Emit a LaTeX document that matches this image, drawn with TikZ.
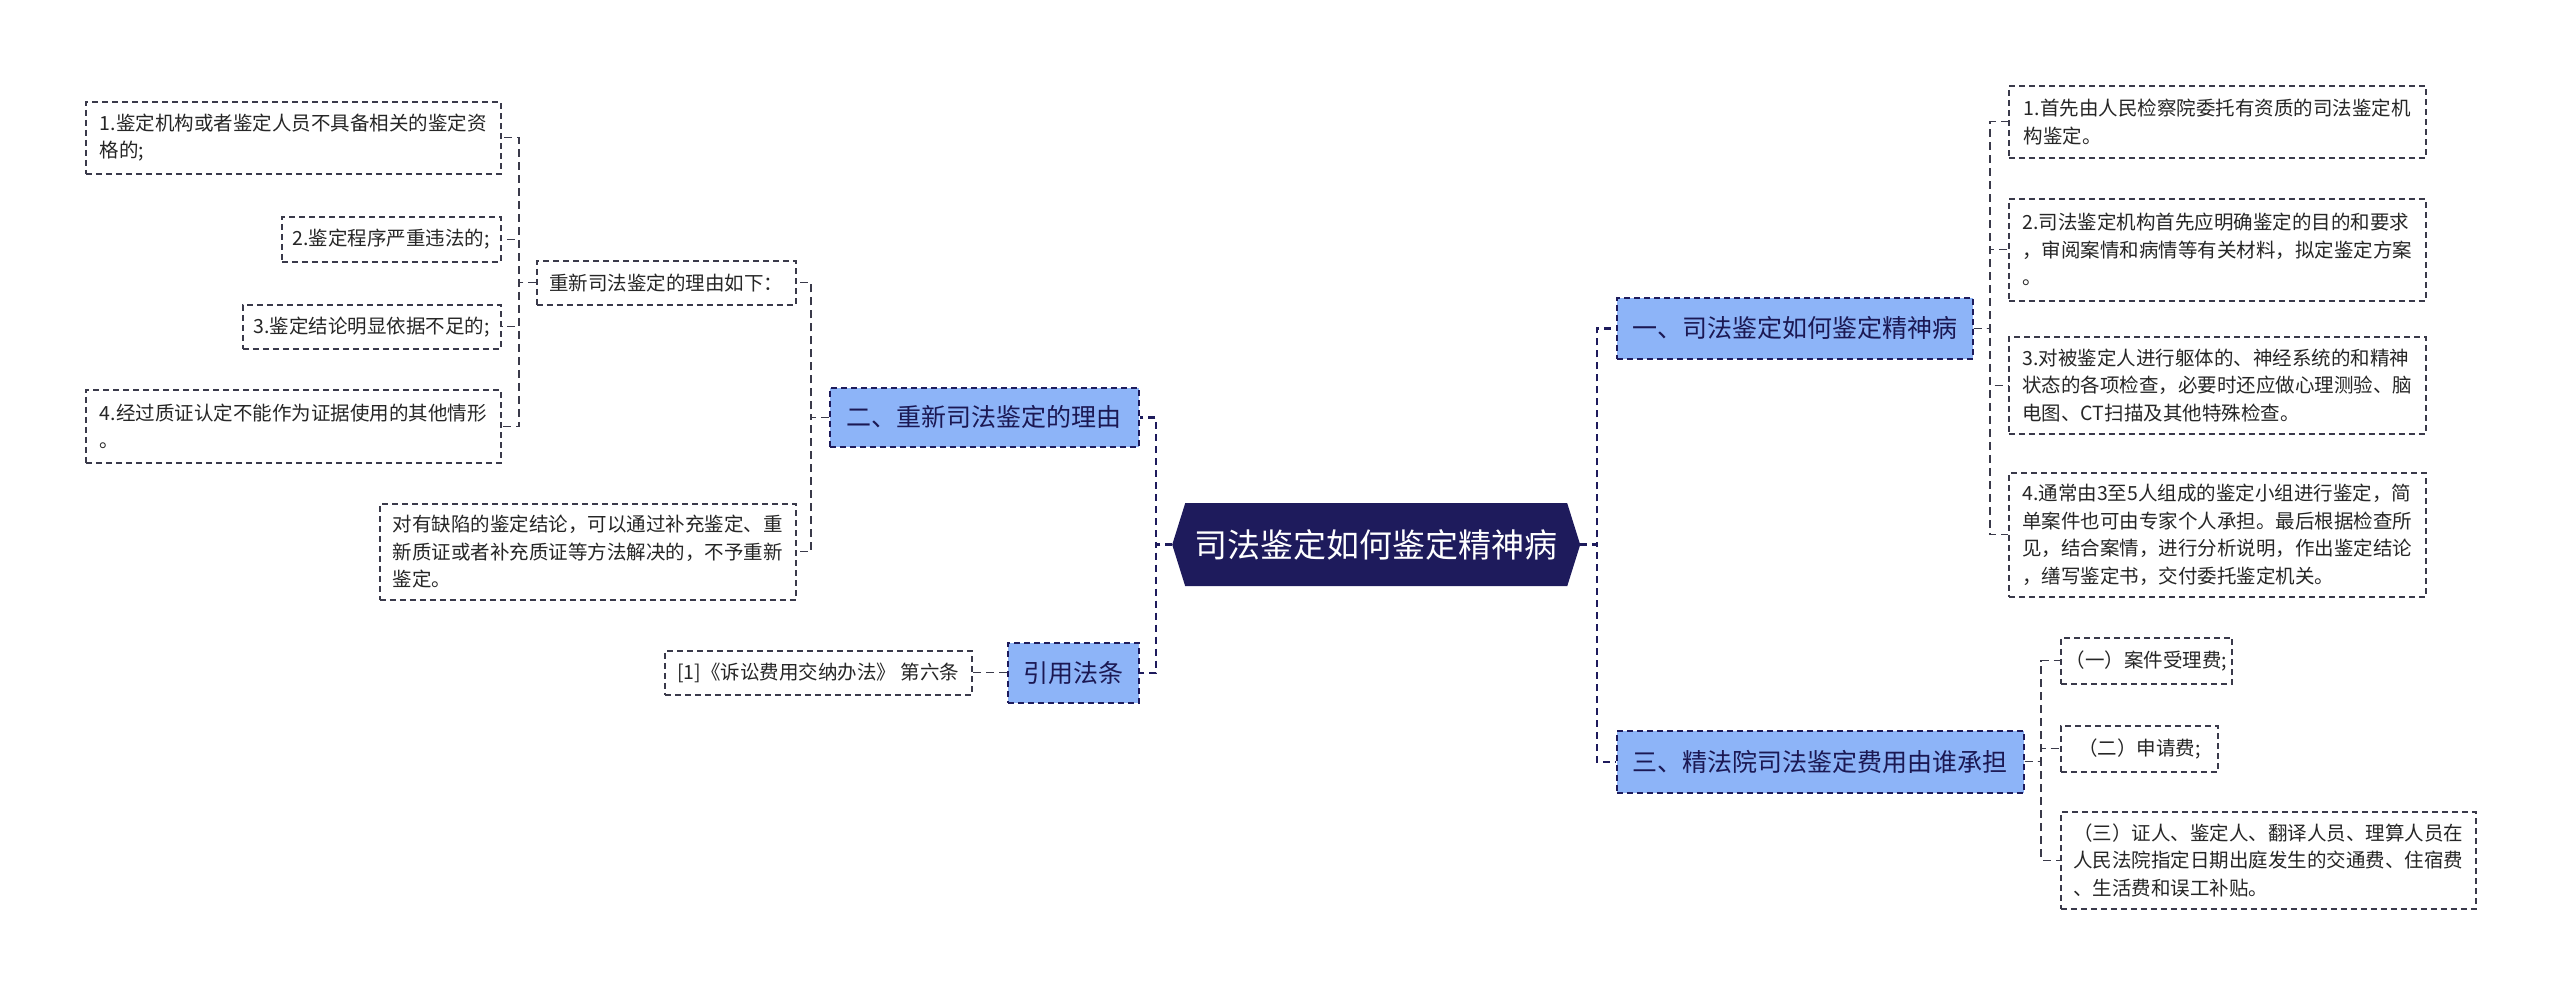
\documentclass[tikz,border=0pt]{standalone}
\usepackage{fontspec}
\setmainfont{Noto Sans CJK SC}
\definecolor{navy}{HTML}{1E1B5C}
\definecolor{lblue}{HTML}{8DB4F8}
\definecolor{lgray}{HTML}{3A3A4A}
\tikzset{
  leaf/.style={draw=lgray, line width=1.6pt, dash pattern=on 6pt off 4pt, fill=white,
    align=left, anchor=north west, inner xsep=5pt, inner ysep=4pt,
    font=\fontsize{19.5}{27.5}\selectfont, text=black!85},
  lvone/.style={draw=navy, line width=1.6pt, dash pattern=on 6pt off 4pt, fill=lblue,
    anchor=north west, inner xsep=8pt, inner ysep=4pt,
    font=\fontsize{25}{30}\selectfont, text=navy!90!black},
  mainlink/.style={draw=navy, line width=2.6pt, dash pattern=on 7pt off 5pt},
  sublink/.style={draw=lgray, line width=1.1pt, dash pattern=on 8pt off 5pt},
}
\begin{document}
\begin{tikzpicture}[x=1pt,y=-1pt]
\useasboundingbox (0,0) rectangle (2560,995);

% center hexagon
\node[minimum width=408pt, minimum height=83pt, inner sep=0pt, anchor=north west,
  font=\fontsize{33}{36}\selectfont, text=white,
  path picture={\fill[navy] (path picture bounding box.west) -- ([xshift=13pt]path picture bounding box.north west) -- ([xshift=-13pt]path picture bounding box.north east) -- (path picture bounding box.east) -- ([xshift=-13pt]path picture bounding box.south east) -- ([xshift=13pt]path picture bounding box.south west) -- cycle;}]
  (c) at (1172,503) {司法鉴定如何鉴定精神病};

% level one
\node[lvone, minimum width=309pt, minimum height=59pt] (b2) at (829,387) {二、重新司法鉴定的理由};
\node[lvone, minimum width=131pt, minimum height=60pt] (b4) at (1007,642) {引用法条};
\node[lvone, minimum width=356pt, minimum height=61pt] (b1) at (1616,297) {一、司法鉴定如何鉴定精神病};
\node[lvone, minimum width=407pt, minimum height=62pt] (b3) at (1616,730) {三、精法院司法鉴定费用由谁承担};

% left level two
\node[leaf, minimum width=259pt, minimum height=44pt] (l1) at (536,260) {重新司法鉴定的理由如下：};
\node[leaf, minimum width=416pt, minimum height=96pt] (l2) at (379,503) {对有缺陷的鉴定结论，可以通过补充鉴定、重\\新质证或者补充质证等方法解决的，不予重新\\鉴定。};
\node[leaf, minimum width=307pt, minimum height=44pt] (q1) at (664,650) {[1]《诉讼费用交纳办法》 第六条};

% left level three
\node[leaf, minimum width=415pt, minimum height=72pt] (m1) at (85,101) {1.鉴定机构或者鉴定人员不具备相关的鉴定资\\格的;};
\node[leaf, minimum width=219pt, minimum height=45pt] (m2) at (281,216) {2.鉴定程序严重违法的;};
\node[leaf, minimum width=258pt, minimum height=44pt] (m3) at (242,304) {3.鉴定结论明显依据不足的;};
\node[leaf, minimum width=415pt, minimum height=73pt] (m4) at (85,389) {4.经过质证认定不能作为证据使用的其他情形\\。};

% right children of b1
\node[leaf, minimum width=417pt, minimum height=72pt] (r1) at (2008,85) {1.首先由人民检察院委托有资质的司法鉴定机\\构鉴定。};
\node[leaf, minimum width=417pt, minimum height=102pt] (r2) at (2008,198) {2.司法鉴定机构首先应明确鉴定的目的和要求\\，审阅案情和病情等有关材料，拟定鉴定方案\\。};
\node[leaf, minimum width=417pt, minimum height=97pt] (r3) at (2008,336) {3.对被鉴定人进行躯体的、神经系统的和精神\\状态的各项检查，必要时还应做心理测验、脑\\电图、CT扫描及其他特殊检查。};
\node[leaf, minimum width=417pt, minimum height=124pt] (r4) at (2008,472) {4.通常由3至5人组成的鉴定小组进行鉴定，简\\单案件也可由专家个人承担。最后根据检查所\\见，结合案情，进行分析说明，作出鉴定结论\\，缮写鉴定书，交付委托鉴定机关。};

% right children of b3
\node[leaf, minimum width=152pt, minimum height=46pt] (s1) at (2060,637) {（一）案件受理费;};
\node[leaf, minimum width=157pt, minimum height=46pt] (s2) at (2060,725) {（二）申请费;};
\node[leaf, minimum width=415pt, minimum height=97pt] (s3) at (2060,811) {（三）证人、鉴定人、翻译人员、理算人员在\\人民法院指定日期出庭发生的交通费、住宿费\\、生活费和误工补贴。};

% spine coordinates
\coordinate (cl) at (1156,0);
\coordinate (cr) at (1597,0);
\coordinate (sb2) at (811,0);
\coordinate (sl1) at (519,0);
\coordinate (sb1) at (1990,0);
\coordinate (sb3) at (2041,0);

% main links
\foreach \t in {b2,b4} \draw[mainlink] (c.west) -- (c.west -| cl) |- (\t.east);
\foreach \t in {b1,b3} \draw[mainlink] (c.east) -- (c.east -| cr) |- (\t.west);

% sub links
\foreach \t in {l1,l2} \draw[sublink] (b2.west) -- (b2.west -| sb2) |- (\t.east);
\draw[sublink] (b4.west) -- (q1.east);
\foreach \t in {m1,m2,m3,m4} \draw[sublink] (l1.west) -- (l1.west -| sl1) |- (\t.east);
\foreach \t in {r1,r2,r3,r4} \draw[sublink] (b1.east) -- (b1.east -| sb1) |- (\t.west);
\foreach \t in {s1,s2,s3} \draw[sublink] (b3.east) -- (b3.east -| sb3) |- (\t.west);
\end{tikzpicture}
\end{document}
